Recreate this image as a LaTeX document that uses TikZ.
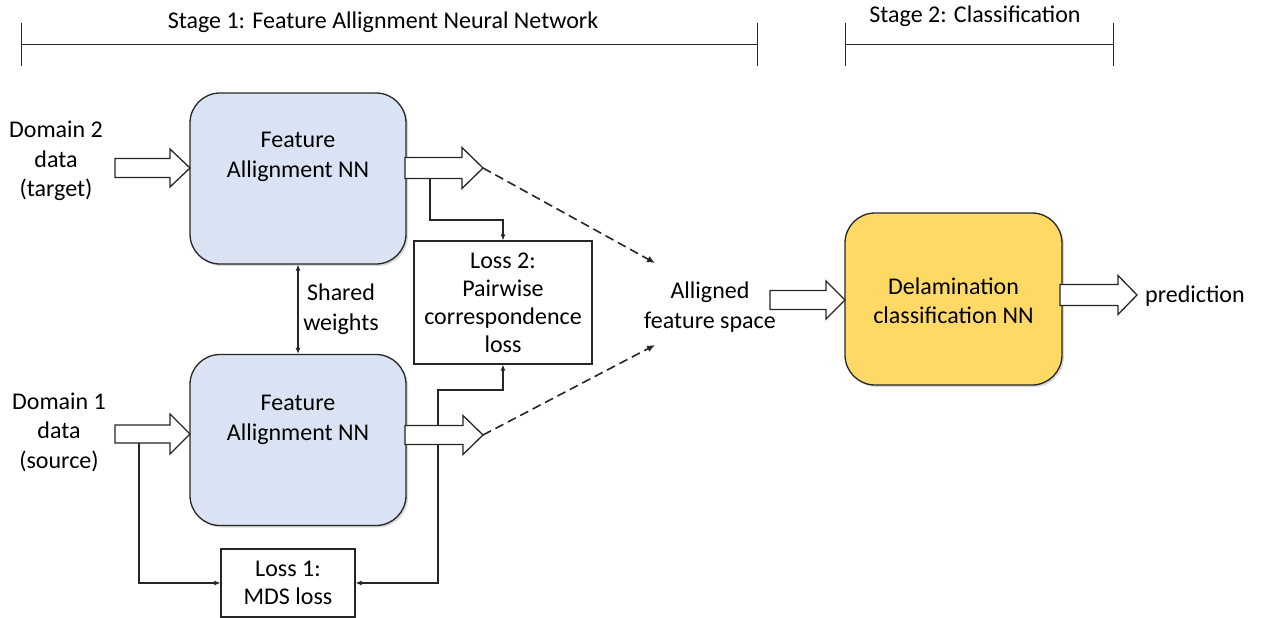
\documentclass[tikz,border=0pt]{standalone}
\usepackage{fontspec}
\setmainfont{Carlito}
\usetikzlibrary{arrows.meta,shadows,calc}
\definecolor{faBlue}{HTML}{DAE3F3}
\definecolor{dlGold}{HTML}{FFD966}
\definecolor{lineC}{HTML}{262626}
\newcommand\blkarrow[7]{% name, x start, x tip, y, half body, half head, head length
  \draw[blk] (#2,{#4-#5}) -- ({#3-#7},{#4-#5}) -- ({#3-#7},{#4-#6}) -- (#3,#4)
    -- ({#3-#7},{#4+#6}) -- ({#3-#7},{#4+#5}) -- (#2,{#4+#5}) -- cycle;
  \coordinate (#1) at (#3,#4);}
\begin{document}
\begin{tikzpicture}[x=1pt,y=-1pt,
  txt/.style={font=\fontsize{24}{29.5}\selectfont, align=center, inner sep=0pt},
  shade box/.style={drop shadow={opacity=0.3, shadow xshift=2pt, shadow yshift=-2pt}},
  fabox/.style={draw=lineC, line width=1.3pt, fill=faBlue, rounded corners=30pt,
    minimum width=216pt, minimum height=171pt, inner sep=0pt, shade box},
  dlbox/.style={draw=lineC, line width=1.3pt, fill=dlGold, rounded corners=30pt,
    minimum width=217pt, minimum height=172pt, inner sep=0pt, shade box},
  lossbox/.style={draw=lineC, line width=1.2pt, fill=white, inner sep=0pt,
    font=\fontsize{24}{28}\selectfont, align=center},
  blk/.style={draw=lineC, line width=1.3pt, fill=white, line join=miter},
  conn/.style={draw=lineC, line width=1.1pt, -{Latex[length=6pt,width=5pt]}},
  dconn/.style={draw=lineC, line width=1.6pt, dash pattern=on 9pt off 5pt, -{Latex[length=8pt,width=7pt]}},
  brk/.style={draw=lineC, line width=0.9pt}
]
\useasboundingbox (0,0) rectangle (1261,618);

% stage brackets
\coordinate (s1a) at (21,44); \coordinate (s1b) at (757,44);
\draw[brk] (s1a) -- (s1b);
\draw[brk] ($(s1a)+(0,-21)$) -- ($(s1a)+(0,22)$);
\draw[brk] ($(s1b)+(0,-21)$) -- ($(s1b)+(0,22)$);
\node[txt] (st1) at (383,22) {Stage 1: Feature Allignment Neural Network};
\coordinate (s2a) at (845,44); \coordinate (s2b) at (1113,44);
\draw[brk] (s2a) -- (s2b);
\draw[brk] ($(s2a)+(0,-21)$) -- ($(s2a)+(0,22)$);
\draw[brk] ($(s2b)+(0,-21)$) -- ($(s2b)+(0,22)$);
\node[txt] (st2) at (975,16) {Stage 2: Classification};

% boxes
\node[fabox] (fa2) at (298,178.5) {};
\node[txt] (fa2t) at (298,157) {Feature\\Allignment NN};
\node[fabox] (fa1) at (298,440) {};
\node[txt] (fa1t) at (298,420) {Feature\\Allignment NN};
\node[dlbox] (dl) at (953.5,299) {};
\node[txt] (dlt) at (953.5,301) {Delamination\\classification NN};

\node[lossbox, minimum width=178pt, minimum height=123pt] (loss2) at (503,302.5)
  {Loss 2:\\Pairwise\\correspondence\\loss};
\node[lossbox, minimum width=134pt, minimum height=68pt] (loss1) at (288,583)
  {Loss 1:\\MDS loss};

% texts
\node[txt] (d2) at (56,161) {Domain 2\\data\\(target)};
\node[txt] (d1) at (59,432) {Domain 1\\data\\(source)};
\node[txt] (sw) at (341,309) {Shared\\weights};
\node[txt] (afs) at (710,307) {Alligned\\feature space};
\node[txt, anchor=west] (pred) at (1145,296) {prediction};

% block arrows
\blkarrow{in2}{115}{190}{168}{9.5}{19}{20}
\blkarrow{in1}{115}{190}{434}{9}{20}{20}
\blkarrow{out2}{405}{483}{168}{10.5}{20.5}{21}
\blkarrow{out1}{405}{483}{435}{9.5}{19.5}{20}
\blkarrow{indl}{770}{845}{300}{9.5}{19}{19}
\blkarrow{outdl}{1060}{1137}{295}{10.5}{19.5}{19}

% dashed arrows to aligned feature space
\coordinate (af2) at (655,263);
\coordinate (af1) at (655,345);
\draw[dconn] (out2) -- (af2);
\draw[dconn] (out1) -- (af1);

% shared weights
\draw[draw=lineC, line width=1.1pt, {Latex[length=6pt,width=5pt]}-{Latex[length=6pt,width=5pt]}] (fa2.south) -- (fa1.north);

% loss connectors
\coordinate (o2b) at (430,178.5);
\draw[conn] (o2b) -- (430,220) -| (loss2.north);
\coordinate (o1t) at (438,425.5);
\draw[conn] (o1t) -- (438,390) -| (loss2.south);
\coordinate (o1b) at (438,444.5);
\draw[conn] (o1b) |- (loss1.east);
\coordinate (i1b) at (139,443);
\draw[conn] (i1b) |- (loss1.west);
\end{tikzpicture}
\end{document}
